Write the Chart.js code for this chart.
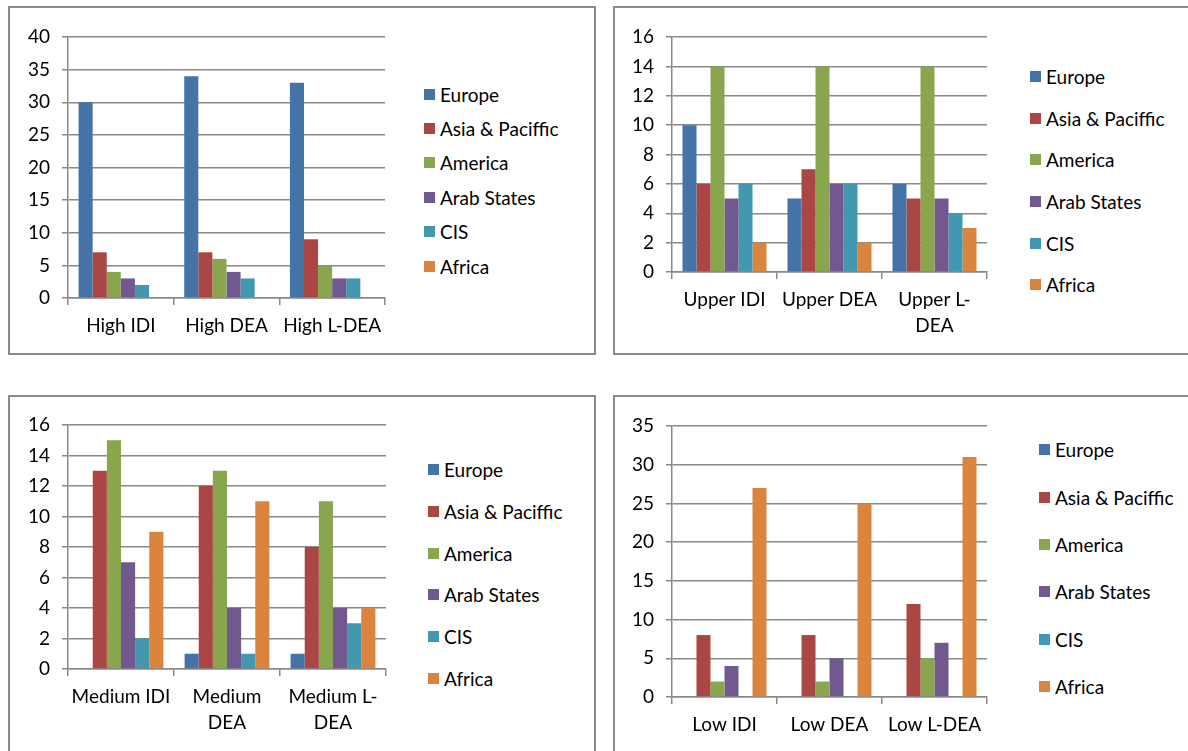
<!DOCTYPE html>
<html>
<head>
<meta charset="utf-8">
<script src="https://cdn.jsdelivr.net/npm/chart.js@4.4.1/dist/chart.umd.min.js"></script>
<style>
  html, body { margin: 0; padding: 0; background: #fff; overflow: hidden; }
  body { width: 1188px; height: 751px; position: relative; font-family: Lato, sans-serif; }
  .box { position: absolute; border: 2px solid #8a8a8a; box-sizing: border-box; }
  .wrap { position: absolute; }
  .legend { position: absolute; font-size: 19px; color: #000; }
  .legend .item { display: flex; align-items: center; white-space: nowrap; }
  .legend .sw { width: 11px; height: 11px; margin-right: 5px; flex: none; }
</style>
</head>
<body>

<div class="box" style="left:8px;top:6px;width:588px;height:349px"></div>
<div class="box" style="left:613px;top:6px;width:600px;height:349px"></div>
<div class="box" style="left:8px;top:395px;width:588px;height:400px"></div>
<div class="box" style="left:613px;top:395px;width:600px;height:400px"></div>

<div class="wrap" style="left:0;top:0;width:400px;height:355px"><canvas id="high"></canvas></div>
<div class="wrap" style="left:604px;top:0;width:400px;height:355px"><canvas id="upper"></canvas></div>
<div class="wrap" style="left:0;top:389px;width:400px;height:362px"><canvas id="medium"></canvas></div>
<div class="wrap" style="left:604px;top:389px;width:400px;height:362px"><canvas id="low"></canvas></div>

<div class="legend" id="high-legend" style="left:424px;top:77px"></div>
<div class="legend" id="upper-legend" style="left:1030px;top:56px"></div>
<div class="legend" id="medium-legend" style="left:428px;top:449px"></div>
<div class="legend" id="low-legend" style="left:1039px;top:426px"></div>

<script>
const regions = ["Europe", "Asia & Paciffic", "America", "Arab States", "CIS", "Africa"];
const regionColors = ["#4572a7", "#aa4643", "#89a54e", "#71588f", "#4198af", "#db843d"];

// one row per region, one value per category
const highLabels = ["High IDI", "High DEA", "High L-DEA"];
const highValues = [
  [30, 34, 33],
  [7, 7, 9],
  [4, 6, 5],
  [3, 4, 3],
  [2, 3, 3],
  [0, 0, 0]
];

const upperLabels = ["Upper IDI", "Upper DEA", ["Upper L-", "DEA"]];
const upperValues = [
  [10, 5, 6],
  [6, 7, 5],
  [14, 14, 14],
  [5, 6, 5],
  [6, 6, 4],
  [2, 2, 3]
];

const mediumLabels = ["Medium IDI", ["Medium", "DEA"], ["Medium L-", "DEA"]];
const mediumValues = [
  [0, 1, 1],
  [13, 12, 8],
  [15, 13, 11],
  [7, 4, 4],
  [2, 1, 3],
  [9, 11, 4]
];

const lowLabels = ["Low IDI", "Low DEA", "Low L-DEA"];
const lowValues = [
  [0, 0, 0],
  [8, 8, 12],
  [2, 2, 5],
  [4, 5, 7],
  [0, 0, 0],
  [27, 25, 31]
];

// y axis ranges: max, step
const highAxis = [40, 5];
const upperAxis = [16, 2];
const mediumAxis = [16, 2];
const lowAxis = [35, 5];

Chart.defaults.font.family = "Lato, sans-serif";
Chart.defaults.font.size = 19;
Chart.defaults.color = "#000";

const gridColor = "#898989";

function makeChart(id, labels, values, axis, area, legendGap) {
  const chart = new Chart(document.getElementById(id), {
    type: "bar",
    data: {
      labels: labels,
      datasets: regions.map((name, i) => ({
        label: name,
        data: values[i],
        backgroundColor: regionColors[i],
        borderWidth: 0,
        barPercentage: 1,
        categoryPercentage: 0.8
      }))
    },
    options: {
      responsive: true,
      maintainAspectRatio: false,
      animation: false,
      layout: { padding: { top: area.top, right: area.right, bottom: 0, left: 0 } },
      scales: {
        x: {
          grid: { color: gridColor, lineWidth: 1.5, drawOnChartArea: false, drawTicks: true, tickLength: 7 },
          border: { display: true, color: gridColor, width: 1.5 },
          ticks: { padding: 8, maxRotation: 0, autoSkip: false, font: { lineHeight: 1.35 } },
          afterFit: (scale) => { scale.height = area.xHeight; }
        },
        y: {
          min: 0,
          max: axis[0],
          grid: { color: gridColor, lineWidth: 1.5, drawTicks: true, tickLength: 6 },
          border: { display: true, color: gridColor, width: 1.5 },
          ticks: { stepSize: axis[1], padding: 12 },
          afterFit: (scale) => { scale.width = 68; }
        }
      },
      plugins: {
        legend: { display: false },
        tooltip: { enabled: false }
      }
    }
  });

  // legend built from the chart's own datasets
  const box = document.getElementById(id + "-legend");
  chart.data.datasets.forEach((ds) => {
    const item = document.createElement("div");
    item.className = "item";
    item.style.height = legendGap + "px";
    const sw = document.createElement("span");
    sw.className = "sw";
    sw.style.background = ds.backgroundColor;
    const txt = document.createElement("span");
    txt.textContent = ds.label;
    item.appendChild(sw);
    item.appendChild(txt);
    box.appendChild(item);
  });
  return chart;
}

makeChart("high", highLabels, highValues, highAxis, { top: 37, right: 15, xHeight: 57 }, 34.4);
makeChart("upper", upperLabels, upperValues, upperAxis, { top: 37, right: 17, xHeight: 83 }, 41.6);
makeChart("medium", mediumLabels, mediumValues, mediumAxis, { top: 36, right: 14, xHeight: 82 }, 41.7);
makeChart("low", lowLabels, lowValues, lowAxis, { top: 37, right: 17, xHeight: 54 }, 47.4);
</script>
</body>
</html>
